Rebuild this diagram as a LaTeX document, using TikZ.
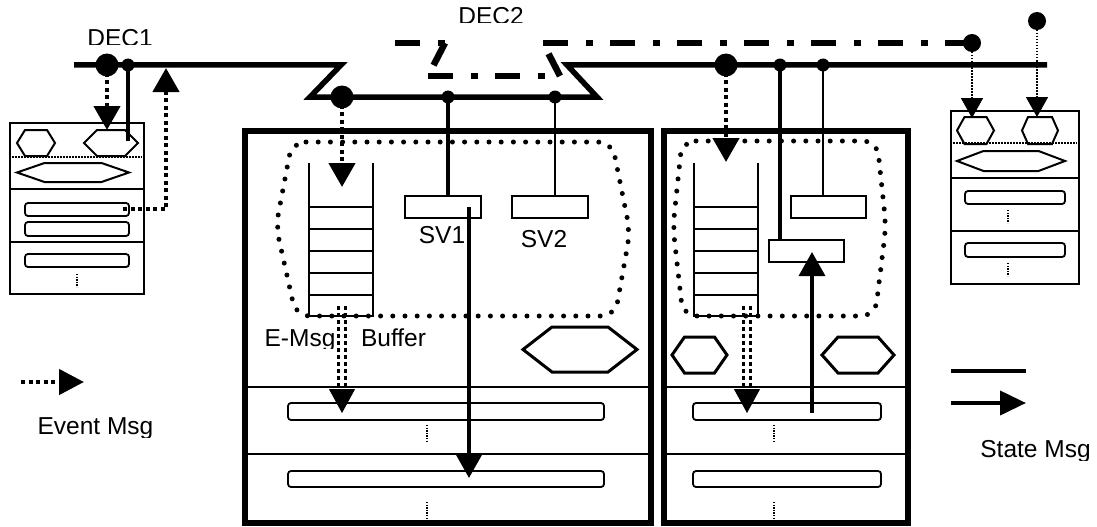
\documentclass[tikz,border=0pt]{standalone}
\usepackage{fontspec}
\setmainfont{Liberation Sans}
\usetikzlibrary{arrows.meta}

% hexagon: [style]{centre}{half width}{half top edge}{half height}
\newcommand{\hexa}[5][line width=2pt]{%
  \draw[#1] (#2) ++(-#3,0) -- ++(#3-#4,#5) -- ++(2*#4,0) -- ++(#3-#4,-#5)
    -- ++(#4-#3,-#5) -- ++(-2*#4,0) -- cycle;}

\begin{document}
\begin{tikzpicture}[x=1pt, y=-1pt,
    >={Triangle[length=24pt,width=26pt]},
    bus/.style={line width=5.5pt},
    decline/.style={line width=6.5pt, dash pattern=on 25pt off 18pt on 7pt off 17pt},
    evt/.style={line width=4.5pt, dash pattern=on 4pt off 3.5pt},
    evttwin/.style={line width=3.2pt, dash pattern=on 4pt off 3pt},
    thindot/.style={line width=1.5pt, dash pattern=on 1.5pt off 1.5pt},
    vdots/.style={line width=1.2pt, dash pattern=on 1.3pt off 1.3pt},
    region/.style={line width=5pt, line cap=round, dash pattern=on 0pt off 12.2pt, rounded corners=14pt},
    frame/.style={line width=5.5pt},
    unit/.style={line width=1.8pt},
    slot/.style={draw, line width=1.8pt, rounded corners=3pt, inner sep=0pt, outer sep=0pt, minimum height=13pt},
    svbox/.style={draw, line width=1.8pt, inner sep=0pt, outer sep=0pt, minimum width=76pt, minimum height=22pt},
    lbl/.style={inner sep=0pt, anchor=base, font=\fontsize{24.5}{27}\selectfont}]

    \useasboundingbox (0,0) rectangle (1097,527);

    % Bus taps
    \coordinate (e1) at (107,65);
    \coordinate (t1) at (128,65);
    \coordinate (e2) at (342,97);
    \coordinate (t2) at (448,97);
    \coordinate (t3) at (555,97);
    \coordinate (e3) at (726,65);
    \coordinate (t4) at (780,65);
    \coordinate (t5) at (823,65);
    \coordinate (d1) at (972,43);
    \coordinate (d2) at (1037,21);

    % Draw DEC1 and DEC2 lines
    \draw[bus] (74,65) -- (341,65) -- (310,97) -- (597,97) -- (567,65) -- (1047,65);
    \draw[decline] (395,43) -- (445,43);
    \draw[decline] (445,43) -- (428,76);
    \draw[decline] (428,76) -- (560,76);
    \draw[decline] (560,76) -- (543,43);
    \draw[decline] (543,43) -- (d1);
    \begin{scope}
        \clip (60,0) rectangle (200,45);
        \node[lbl] (dec1) at (120,47) {DEC1};
    \end{scope}
    \begin{scope}
        \clip (430,0) rectangle (560,23);
        \node[lbl] (dec2) at (491,25) {DEC2};
    \end{scope}

    % Left small unit
    \draw[unit] (10,123) rectangle (144,294);
    \draw[unit] (10,189) -- (144,189) (10,242) -- (144,242);
    \draw[thindot] (12,157) -- (142,157);
    \hexa{36,143}{19}{11}{13}
    \hexa{111,143}{27}{14}{13}
    \hexa{73,172.5}{56}{28.5}{9.5}
    \node[slot, minimum width=104pt] (la) at (77,209.5) {};
    \node[slot, minimum width=104pt, minimum height=14pt] (lb) at (77,229) {};
    \node[slot, minimum width=104pt] (lc) at (77,260.5) {};
    \draw[vdots] (77,274) -- (77,287);

    % Right small unit
    \draw[unit] (951,111) rectangle (1079,284);
    \draw[unit] (951,178) -- (1079,178) (951,231) -- (1079,231);
    \draw[thindot] (953,143) -- (1077,143);
    \hexa{975.5,130.5}{18.5}{11}{13.5}
    \hexa{1040,130.5}{18}{12}{13.5}
    \hexa{1011,161}{54}{27.5}{10}
    \node[slot, minimum width=100pt] (ra) at (1015,197.5) {};
    \node[slot, minimum width=100pt, minimum height=14pt] (rb) at (1015,250) {};
    \draw[vdots] (1008,210) -- (1008,223);
    \draw[vdots] (1008,263) -- (1008,276);

    % Middle unit (E-Msg buffer)
    \draw[frame] (245,131) rectangle (651,523);
    \draw[unit] (245,387) -- (651,387) (245,454) -- (651,454);
    \draw[unit] (309,163) -- (309,316) -- (373,316) -- (373,163);
    \foreach \y in {207,229,251,273,295}
        \draw[unit] (309,\y) -- (373,\y);
    \node[svbox] (sv1) at (443,207) {};
    \node[svbox] (sv2) at (550,207) {};
    \node[lbl] (sv1l) at (442,243) {SV1};
    \node[lbl] (sv2l) at (544,247) {SV2};
    \hexa[line width=3pt]{580,349.5}{57}{28}{22.5}
    \node[slot, minimum width=316pt, minimum height=17pt] (ma) at (446,411.5) {};
    \node[slot, minimum width=316pt, minimum height=16pt] (mb) at (446,479) {};
    \draw[vdots] (427,425) -- (427,442);
    \draw[vdots] (427,502) -- (427,518);
    \draw[region] (292,142) -- (612,142) -- (630,232) -- (615,316) -- (296,316) -- (276,226) -- cycle;
    \begin{scope}
        \clip (250,300) rectangle (450,348);
        \node[lbl] (emsg) at (300,346) {E-Msg};
        \node[lbl] (buf) at (393.5,346) {Buffer};
    \end{scope}

    % Right unit
    \draw[frame] (664,131) rectangle (908,523);
    \draw[unit] (664,387) -- (908,387) (664,454) -- (908,454);
    \draw[unit] (694,163) -- (694,316) -- (758,316) -- (758,163);
    \foreach \y in {207,229,251,273,295}
        \draw[unit] (694,\y) -- (758,\y);
    \node[svbox, minimum width=75pt] (rsv2) at (828.5,207) {};
    \node[svbox, minimum width=75pt] (rsv1) at (806.5,251) {};
    \hexa[line width=3pt]{699.5,355}{27.5}{15}{18}
    \hexa[line width=3pt]{858,355}{36}{20}{18}
    \node[slot, minimum width=188pt, minimum height=17pt] (na) at (787,411.5) {};
    \node[slot, minimum width=188pt, minimum height=16pt] (nb) at (787,479) {};
    \draw[vdots] (774,425) -- (774,442);
    \draw[vdots] (774,502) -- (774,518);
    \draw[region] (682,141) -- (877,141) -- (886,226) -- (875,316) -- (683,316) -- (673,227) -- cycle;

    % Event messages
    \draw[evt, ->] (e1) -- (107,130);
    \draw[evt, ->] (123,209) -| (166,68);
    \draw[evt, ->] (e2) -- (342,187);
    \draw[evt, ->] (e3) -- (726,162);
    \draw[evttwin] (338.5,306) -- (338.5,388) (345.5,306) -- (345.5,388);
    \draw[->, line width=1pt] (342,389) -- (342,413);
    \draw[evttwin] (743.5,306) -- (743.5,388) (750.5,306) -- (750.5,388);
    \draw[->, line width=1pt] (747,389) -- (747,413);
    \draw[thindot, -{Triangle[length=20pt,width=22pt]}] (d1) -- (972,118);
    \draw[thindot, -{Triangle[length=20pt,width=22pt]}] (d2) -- (1037,117);

    % State messages
    \draw[line width=4pt] (t1) -- (128,141);
    \draw[line width=4pt] (t2) -- (t2 |- sv1.north);
    \draw[line width=2pt] (t3) -- (t3 |- sv2.north);
    \draw[line width=3.5pt, ->] (469,207) -- (469,478);
    \draw[line width=4pt] (t4) -- (t4 |- rsv1.north);
    \draw[line width=2pt] (t5) -- (t5 |- rsv2.north);
    \draw[line width=3.5pt, ->] (812,413) -- (812,252);

    % Draw dots
    \foreach \p in {e1,e2,e3}
        \fill (\p) circle (11.5);
    \foreach \p in {t1,t2,t3,t4,t5}
        \fill (\p) circle (6.5);
    \foreach \p in {d1,d2}
        \fill (\p) circle (9);

    % Legend
    \draw[evt, -{Triangle[length=25pt,width=25pt]}] (21,382) -- (84,382);
    \draw[line width=4pt] (951,371) -- (1026,371);
    \draw[line width=4pt, -{Triangle[length=26pt,width=24pt]}] (951,403) -- (1026,403);
    \begin{scope}
        \clip (0,400) rectangle (1097,437);
        \node[lbl] (evl) at (95.5,434) {Event Msg};
    \end{scope}
    \begin{scope}
        \clip (0,420) rectangle (1097,460);
        \node[lbl] (stl) at (1035.5,457) {State Msg};
    \end{scope}
\end{tikzpicture}
\end{document}
